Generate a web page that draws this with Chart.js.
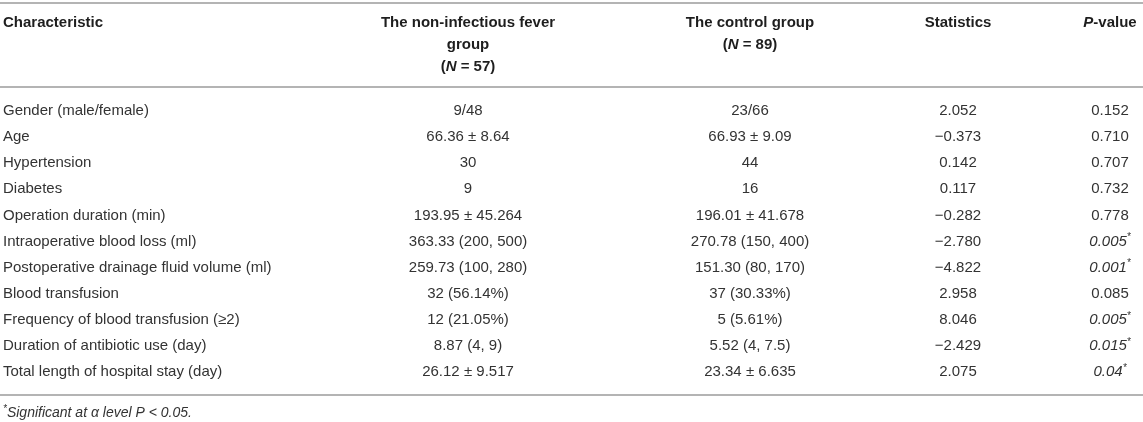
<!DOCTYPE html>
<html>
<head>
<meta charset="utf-8">
<script src="https://cdn.jsdelivr.net/npm/chart.js@4/dist/chart.umd.min.js"></script>
<style>
  html, body { margin: 0; padding: 0; background: #fff; }
  canvas { display: block; }
</style>
</head>
<body>
<canvas id="table" width="1143" height="422"></canvas>
<script>
// table content, one array per column ("_" toggles italic)
var columnHeaders = [
	['Characteristic'],
	['The non-infectious fever', 'group', '(_N_ = 57)'],
	['The control group', '(_N_ = 89)'],
	['Statistics'],
	['_P_-value']
];
var characteristics = [
	'Gender (male/female)',
	'Age',
	'Hypertension',
	'Diabetes',
	'Operation duration (min)',
	'Intraoperative blood loss (ml)',
	'Postoperative drainage fluid volume (ml)',
	'Blood transfusion',
	'Frequency of blood transfusion (\u22652)',
	'Duration of antibiotic use (day)',
	'Total length of hospital stay (day)'
];
var feverGroup = ['9/48', '66.36 \u00b1 8.64', '30', '9', '193.95 \u00b1 45.264', '363.33 (200, 500)',
	'259.73 (100, 280)', '32 (56.14%)', '12 (21.05%)', '8.87 (4, 9)', '26.12 \u00b1 9.517'];
var controlGroup = ['23/66', '66.93 \u00b1 9.09', '44', '16', '196.01 \u00b1 41.678', '270.78 (150, 400)',
	'151.30 (80, 170)', '37 (30.33%)', '5 (5.61%)', '5.52 (4, 7.5)', '23.34 \u00b1 6.635'];
var statistics = ['2.052', '\u22120.373', '0.142', '0.117', '\u22120.282', '\u22122.780',
	'\u22124.822', '2.958', '8.046', '\u22122.429', '2.075'];
var pValues = ['0.152', '0.710', '0.707', '0.732', '0.778', '0.005*', '0.001*', '0.085', '0.005*', '0.015*', '0.04*'];
var footnote = '*Significant at \u03b1 level P < 0.05.';

// layout (x in canvas units, y in row units)
var COL_X = [3, 468, 750, 958, 1110];
var COL_ALIGN = ['left', 'center', 'center', 'center', 'center'];
var HEADER_Y = -3.37, HEADER_STEP = 0.843;
var RULES_Y = [-4.14, -0.92, 10.88];
var FOOT_Y = 11.57;
var FONT = '"Liberation Sans", Arial, Helvetica, sans-serif';
var TEXT = '#333333', HEAD = '#1e1e1e', RULE = '#b4b4b4';

var columns = [characteristics, feverGroup, controlGroup, statistics, pValues];

function segments(str) {
	var out = [];
	str.split('_').forEach(function (t, i) {
		if (t) out.push({ t: t, it: i % 2 === 1 });
	});
	return out;
}

function fontFor(seg, base) {
	return (seg.it ? 'italic ' : '') + base;
}

function drawRich(ctx, segs, x, y, align, base, supBase) {
	var w = 0;
	segs.forEach(function (s) {
		ctx.font = s.sup ? fontFor(s, supBase) : fontFor(s, base);
		s.w = ctx.measureText(s.t).width;
		w += s.w;
	});
	var cx = align === 'center' ? x - w / 2 : x;
	ctx.textAlign = 'left';
	ctx.textBaseline = 'middle';
	segs.forEach(function (s) {
		ctx.font = s.sup ? fontFor(s, supBase) : fontFor(s, base);
		ctx.fillText(s.t, cx, s.sup ? y - 4 : y);
		cx += s.w;
	});
}

function cellSegments(text) {
	if (text.charAt(text.length - 1) === '*') {
		return [{ t: text.slice(0, -1), it: true }, { t: '*', it: true, sup: true }];
	}
	return [{ t: text, it: false }];
}

var tablePlugin = {
	id: 'tableText',
	afterDatasetsDraw: function (chart) {
		var ctx = chart.ctx, ys = chart.scales.y, area = chart.chartArea;
		ctx.save();

		ctx.fillStyle = RULE;
		RULES_Y.forEach(function (v) {
			var py = Math.round(ys.getPixelForValue(v));
			ctx.fillRect(area.left, py - 1, area.right - area.left, 2);
		});

		ctx.fillStyle = HEAD;
		columnHeaders.forEach(function (lines, c) {
			lines.forEach(function (line, l) {
				drawRich(ctx, segments(line), COL_X[c], ys.getPixelForValue(HEADER_Y + l * HEADER_STEP),
					COL_ALIGN[c], 'bold 15px ' + FONT, 'bold 10px ' + FONT);
			});
		});

		ctx.fillStyle = TEXT;
		chart.data.datasets.forEach(function (ds, di) {
			chart.getDatasetMeta(di).data.forEach(function (pt, i) {
				drawRich(ctx, cellSegments(ds.data[i].text), pt.x, pt.y, COL_ALIGN[di],
					'15px ' + FONT, '10px ' + FONT);
			});
		});

		drawRich(ctx, [{ t: '*', it: true, sup: true }, { t: footnote.slice(1), it: true }],
			COL_X[0], ys.getPixelForValue(FOOT_Y), 'left', '14px ' + FONT, '10px ' + FONT);

		ctx.restore();
	}
};

new Chart(document.getElementById('table'), {
	type: 'scatter',
	data: {
		datasets: columns.map(function (col, c) {
			return {
				label: columnHeaders[c].join(' '),
				data: col.map(function (text, i) { return { x: COL_X[c], y: i, text: text }; }),
				pointRadius: 0,
				pointHoverRadius: 0
			};
		})
	},
	options: {
		responsive: false,
		animation: false,
		events: [],
		layout: { padding: 0 },
		plugins: { legend: { display: false }, tooltip: { enabled: false } },
		scales: {
			x: { type: 'linear', display: false, min: 0, max: 1143 },
			y: { type: 'linear', display: false, reverse: true, min: -4.253, max: 11.916 }
		}
	},
	plugins: [tablePlugin]
});
</script>
</body>
</html>
